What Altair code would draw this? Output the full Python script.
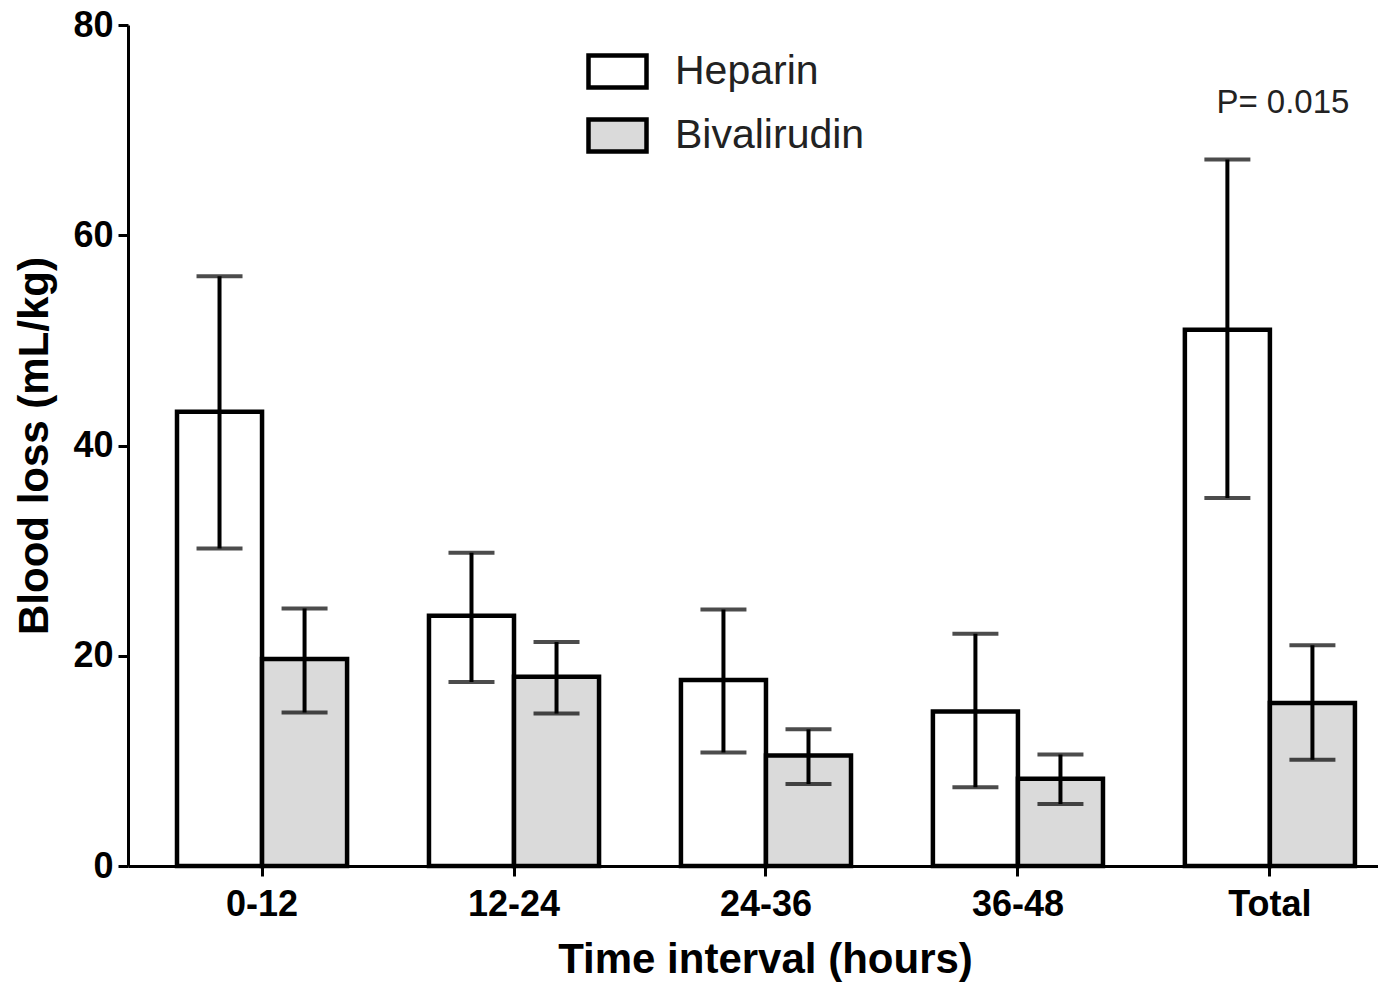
import altair as alt
import pandas as pd

intervals = ["0-12", "12-24", "24-36", "36-48", "Total"]
groups = ["Heparin", "Bivalirudin"]
heparin_mean = [43.2, 23.8, 17.7, 14.7, 51.0]
heparin_low = [30.2, 17.5, 10.8, 7.5, 35.0]
heparin_high = [56.1, 29.8, 24.4, 22.1, 67.2]
bival_mean = [19.7, 18.0, 10.5, 8.3, 15.5]
bival_low = [14.6, 14.5, 7.8, 5.9, 10.1]
bival_high = [24.5, 21.3, 13.0, 10.6, 21.0]
p_interval = "Total"
p_label = "P= 0.015"
p_y = 72.6

rows = []
for i, iv in enumerate(intervals):
    rows.append({"interval": iv, "group": "Heparin", "mean": heparin_mean[i],
                 "low": heparin_low[i], "high": heparin_high[i]})
    rows.append({"interval": iv, "group": "Bivalirudin", "mean": bival_mean[i],
                 "low": bival_low[i], "high": bival_high[i]})
df = pd.DataFrame(rows)

FONT = "Liberation Sans"

xscale = alt.Scale(paddingInner=0.325, paddingOuter=0.143, align=0.68)
xaxis = alt.Axis(labelAngle=0, domainColor="black", domainWidth=3, tickColor="black",
                 tickWidth=3, tickSize=10, labelFontSize=36, labelFont=FONT,
                 labelFontWeight="bold", labelColor="black", labelPadding=11,
                 title="Time interval (hours)", titleFontSize=42, titleFont=FONT,
                 titleFontWeight="bold", titleColor="black", titlePadding=17, titleX=637)
yaxis = alt.Axis(values=[0, 20, 40, 60, 80], grid=False, domainColor="black", domainWidth=3,
                 tickColor="black", tickWidth=3, tickSize=10, labelFontSize=36,
                 labelFont=FONT, labelFontWeight="bold", labelColor="black", labelPadding=5,
                 title="Blood loss (mL/kg)", titleFontSize=42, titleFont=FONT,
                 titleFontWeight="bold", titleColor="black", titlePadding=16)

base = alt.Chart(df).encode(
    x=alt.X("interval:N", sort=intervals, scale=xscale, axis=xaxis),
    xOffset=alt.XOffset("group:N", sort=groups, scale=alt.Scale(paddingInner=0, paddingOuter=0)),
)

bars = base.mark_bar(stroke="black", strokeWidth=4.5).encode(
    y=alt.Y("mean:Q", scale=alt.Scale(domain=[0, 80], nice=False), axis=yaxis),
    fill=alt.Fill("group:N", sort=groups,
                  scale=alt.Scale(domain=groups, range=["white", "#dadada"]),
                  legend=alt.Legend(title=None, orient="none", legendX=458, legendY=15,
                                    symbolType="M-1,-0.55H1V0.55H-1Z", symbolSize=3364,
                                    symbolStrokeWidth=4.5, symbolStrokeColor="black",
                                    labelFontSize=41, labelFont=FONT, labelColor="#222222",
                                    labelOffset=26, rowPadding=7, labelLimit=0)),
)

rules = base.mark_rule(strokeWidth=4, color="black").encode(y="low:Q", y2="high:Q")
cap_hi = base.mark_tick(size=46, thickness=4, color="black").encode(y="high:Q")
cap_lo = base.mark_tick(size=46, thickness=4, color="black").encode(y="low:Q")

ptext = alt.Chart(pd.DataFrame({"interval": [p_interval], "y": [p_y], "label": [p_label]})).mark_text(
    fontSize=33, font=FONT, color="#222222", dx=13, baseline="middle"
).encode(x=alt.X("interval:N", sort=intervals), y="y:Q", text="label:N")

chart = alt.layer(bars, rules, cap_hi, cap_lo, ptext).properties(
    width=1250, height=841,
    padding={"left": 128, "top": 25, "right": 0, "bottom": 121},
    autosize="none",
).configure_view(stroke=None)

chart.save("out.html", embed_options={"renderer": "svg", "actions": False})
